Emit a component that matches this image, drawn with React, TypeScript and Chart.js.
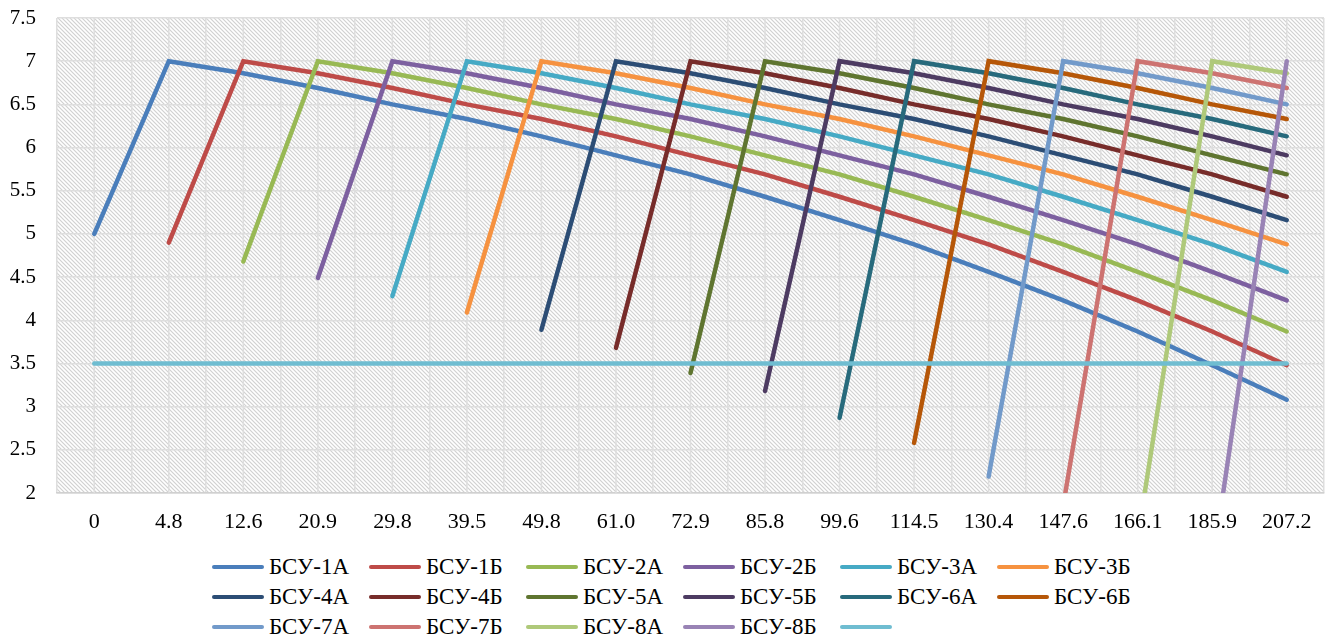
import React, { useEffect, useRef } from 'react';
import { Chart, registerables } from 'chart.js';

Chart.register(...registerables);

const xLabels = ['0', '4.8', '12.6', '20.9', '29.8', '39.5', '49.8', '61.0', '72.9', '85.8', '99.6', '114.5', '130.4', '147.6', '166.1', '185.9', '207.2'];

const seriesNames = [
  'БСУ-1А', 'БСУ-1Б', 'БСУ-2А', 'БСУ-2Б', 'БСУ-3А', 'БСУ-3Б',
  'БСУ-4А', 'БСУ-4Б', 'БСУ-5А', 'БСУ-5Б', 'БСУ-6А', 'БСУ-6Б',
  'БСУ-7А', 'БСУ-7Б', 'БСУ-8А', 'БСУ-8Б', '',
];

const seriesColors = [
  '#4A7EBB', '#BE4B48', '#98B954', '#7D60A0', '#46AAC5', '#F69240',
  '#2C4D75', '#772C2A', '#5F7530', '#4D3B62', '#276A7C', '#B65708',
  '#729ACA', '#CD7371', '#AFC97A', '#9983B5', '#6FBDD1',
];

const s1A = [5.0, 7, 6.86, 6.69, 6.5, 6.33, 6.13, 5.91, 5.69, 5.43, 5.16, 4.88, 4.56, 4.23, 3.87, 3.48, 3.08];
const s1B = [null, 4.9, 7, 6.86, 6.69, 6.5, 6.33, 6.13, 5.91, 5.69, 5.43, 5.16, 4.88, 4.56, 4.23, 3.87, 3.48];
const s2A = [null, null, 4.68, 7, 6.86, 6.69, 6.5, 6.33, 6.13, 5.91, 5.69, 5.43, 5.16, 4.88, 4.56, 4.23, 3.87];
const s2B = [null, null, null, 4.49, 7, 6.86, 6.69, 6.5, 6.33, 6.13, 5.91, 5.69, 5.43, 5.16, 4.88, 4.56, 4.23];
const s3A = [null, null, null, null, 4.28, 7, 6.86, 6.69, 6.5, 6.33, 6.13, 5.91, 5.69, 5.43, 5.16, 4.88, 4.56];
const s3B = [null, null, null, null, null, 4.09, 7, 6.86, 6.69, 6.5, 6.33, 6.13, 5.91, 5.69, 5.43, 5.16, 4.88];
const s4A = [null, null, null, null, null, null, 3.89, 7, 6.86, 6.69, 6.5, 6.33, 6.13, 5.91, 5.69, 5.43, 5.16];
const s4B = [null, null, null, null, null, null, null, 3.68, 7, 6.86, 6.69, 6.5, 6.33, 6.13, 5.91, 5.69, 5.43];
const s5A = [null, null, null, null, null, null, null, null, 3.39, 7, 6.86, 6.69, 6.5, 6.33, 6.13, 5.91, 5.69];
const s5B = [null, null, null, null, null, null, null, null, null, 3.18, 7, 6.86, 6.69, 6.5, 6.33, 6.13, 5.91];
const s6A = [null, null, null, null, null, null, null, null, null, null, 2.87, 7, 6.86, 6.69, 6.5, 6.33, 6.13];
const s6B = [null, null, null, null, null, null, null, null, null, null, null, 2.58, 7, 6.86, 6.69, 6.5, 6.33];
const s7A = [null, null, null, null, null, null, null, null, null, null, null, null, 2.19, 7, 6.86, 6.69, 6.5];
const s7B = [null, null, null, null, null, null, null, null, null, null, null, null, null, 1.85, 7, 6.86, 6.69];
const s8A = [null, null, null, null, null, null, null, null, null, null, null, null, null, null, 1.48, 7, 6.86];
const s8B = [null, null, null, null, null, null, null, null, null, null, null, null, null, null, null, 1.14, 7];
const limitLine = [3.5, 3.5, 3.5, 3.5, 3.5, 3.5, 3.5, 3.5, 3.5, 3.5, 3.5, 3.5, 3.5, 3.5, 3.5, 3.5, 3.5];

const seriesValues = [s1A, s1B, s2A, s2B, s3A, s3B, s4A, s4B, s5A, s5B, s6A, s6B, s7A, s7B, s8A, s8B, limitLine];

const yMin = 2;
const yMax = 7.5;
const yStep = 0.5;

const GRID = '#dedede';
const FONT = "'Liberation Serif', 'Times New Roman', serif";

function makeHatch(): CanvasPattern | string {
  const t = document.createElement('canvas');
  t.width = 4;
  t.height = 4;
  const c = t.getContext('2d');
  if (!c) return '#fff';
  const img = c.createImageData(4, 4);
  for (let y = 0; y < 4; y++) {
    for (let x = 0; x < 4; x++) {
      const d = ((x - y) % 4 + 4) % 4;
      let v = 255;
      if (d === 0) v = 210;
      else if (d === 1 || d === 3) v = 240;
      const k = (y * 4 + x) * 4;
      img.data[k] = v;
      img.data[k + 1] = v;
      img.data[k + 2] = v;
      img.data[k + 3] = 255;
    }
  }
  c.putImageData(img, 0, 0);
  const p = c.createPattern(t, 'repeat');
  return p || '#fff';
}

export default function App() {
  const ref = useRef<HTMLCanvasElement | null>(null);

  useEffect(() => {
    if (!ref.current) return;
    const hatch = makeHatch();
    const bgPlugin = {
      id: 'hatchBg',
      beforeDraw(chart: any) {
        const { ctx, chartArea } = chart;
        ctx.save();
        ctx.fillStyle = '#ffffff';
        ctx.fillRect(chartArea.left, chartArea.top, chartArea.right - chartArea.left, chartArea.bottom - chartArea.top);
        ctx.fillStyle = hatch;
        ctx.fillRect(chartArea.left, chartArea.top, chartArea.right - chartArea.left, chartArea.bottom - chartArea.top);
        ctx.restore();
      },
      beforeDatasetsDraw(chart: any) {
        const { ctx, chartArea } = chart;
        const xs = chart.scales.x;
        ctx.save();
        ctx.strokeStyle = GRID;
        ctx.lineWidth = 1.5;
        for (let i = 0; i < xLabels.length; i++) {
          const px = xs.getPixelForValue(i);
          ctx.beginPath();
          ctx.moveTo(px, chartArea.top);
          ctx.lineTo(px, chartArea.bottom);
          ctx.stroke();
        }
        ctx.restore();
      },
    };

    const chart = new Chart(ref.current, {
      type: 'line',
      data: {
        labels: xLabels,
        datasets: seriesValues.map((vals, i) => ({
          label: seriesNames[i],
          data: vals,
          borderColor: seriesColors[i],
          backgroundColor: seriesColors[i],
          borderWidth: 4.5,
          pointRadius: 0,
          pointHoverRadius: 0,
          tension: 0,
          fill: false,
          borderCapStyle: 'round',
          borderJoinStyle: 'miter',
          clip: 0,
          order: -i,
        })),
      },
      options: {
        animation: false,
        responsive: true,
        maintainAspectRatio: false,
        events: [],
        layout: { padding: { top: 18, right: 4, bottom: 0, left: 0 } },
        plugins: {
          legend: { display: false },
          tooltip: { enabled: false },
          title: { display: false },
        },
        scales: {
          x: {
            type: 'category',
            offset: true,
            grid: { color: GRID, lineWidth: 1.5, offset: true, drawTicks: false },
            border: { display: true, color: '#d0d0d0', width: 1.5 },
            ticks: {
              color: '#000',
              font: { family: FONT, size: 22 },
              padding: 16,
              maxRotation: 0,
              autoSkip: false,
            },
            afterFit(scale: any) {
              scale.height = 55;
            },
          },
          y: {
            min: yMin,
            max: yMax,
            grid: { color: GRID, lineWidth: 1.5, drawTicks: false },
            border: { display: false },
            ticks: {
              stepSize: yStep,
              color: '#000',
              font: { family: FONT, size: 21 },
              padding: 21,
              callback: (v: any) => String(v),
            },
            afterFit(scale: any) {
              scale.width = 57;
              scale.paddingTop = 0;
              scale.paddingBottom = 0;
            },
          },
        },
      },
      plugins: [bgPlugin],
    } as any);

    return () => chart.destroy();
  }, []);

  const rows: number[][] = [];
  for (let r = 0; r < 3; r++) {
    const row: number[] = [];
    for (let c = 0; c < 6; c++) {
      const idx = r * 6 + c;
      if (idx < seriesNames.length) row.push(idx);
    }
    rows.push(row);
  }

  return (
    <div style={{ position: 'absolute', left: 0, top: 0, width: 1328, height: 640, background: '#fff' }}>
      <div style={{ position: 'absolute', left: 0, top: 0, width: 1328, height: 548 }}>
        <canvas ref={ref} />
      </div>
      <div style={{ position: 'absolute', left: 212, top: 552 }}>
        {rows.map((row, r) => (
          <div key={r} style={{ display: 'flex', height: 30 }}>
            {row.map((idx) => (
              <div key={idx} style={{ width: 157, display: 'flex', alignItems: 'center', height: 30 }}>
                <span
                  style={{
                    display: 'inline-block',
                    width: 52,
                    height: 4.5,
                    borderRadius: 3,
                    background: seriesColors[idx],
                    flex: '0 0 auto',
                  }}
                />
                <span
                  style={{
                    marginLeft: 5,
                    fontFamily: FONT,
                    fontSize: 23,
                    lineHeight: '30px',
                    color: '#000',
                    whiteSpace: 'nowrap',
                  }}
                >
                  {seriesNames[idx]}
                </span>
              </div>
            ))}
          </div>
        ))}
      </div>
    </div>
  );
}
